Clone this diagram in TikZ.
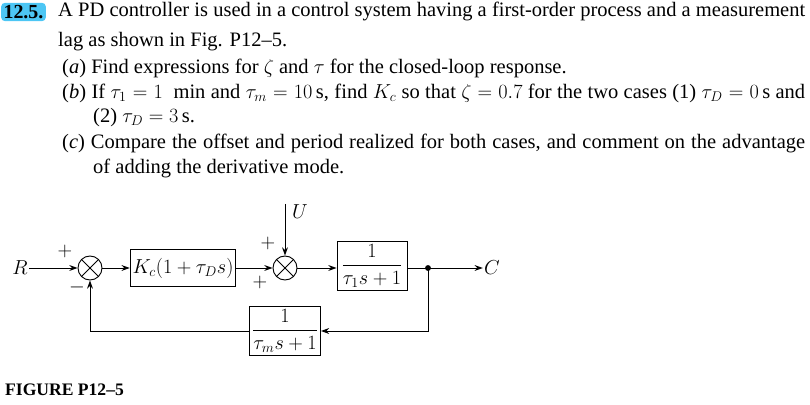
\documentclass[tikz,border=0pt]{standalone}
\usepackage{amsmath}
\usepackage{fontspec}
\setmainfont{Liberation Serif}
\usetikzlibrary{arrows.meta}
\begin{document}
\begin{tikzpicture}[x=0.03cm,y=-0.03cm,
  txt/.style={anchor=west,inner sep=0pt,font=\fontsize{17.5}{20}\selectfont},
  blk/.style={draw,line width=0.8pt,minimum height=37*0.03cm,inner sep=2pt,font=\fontsize{16.5}{18}\selectfont},
  sumc/.style={draw,circle,line width=0.8pt,minimum size=24*0.03cm,inner sep=0pt,
    path picture={\draw (path picture bounding box.north west)--(path picture bounding box.south east)
      (path picture bounding box.north east)--(path picture bounding box.south west);}},
  sig/.style={line width=0.8pt,-{Stealth[length=7pt,width=5pt]}},
  lbl/.style={font=\fontsize{16.5}{18}\selectfont,inner sep=1pt}]
\useasboundingbox (0,0) rectangle (810,405);
% header
\node[fill=cyan!70!white,rounded corners=3pt,inner sep=2pt,anchor=west,font=\fontsize{17}{18}\selectfont\bfseries] (num) at (1,12) {12.5.};
\node[txt] (l1) at (58,12) {\makebox[747\dimexpr0.03cm][s]{A PD controller is used in a control system having a first-order process and a measurement}};
\node[txt] (l2) at (58,42) {lag as shown in Fig. P12--5.};
\node[txt] (l3) at (62,68) {(\textit{a}) Find expressions for $\zeta$ and $\tau$ for the closed-loop response.};
\node[txt] (l4) at (62,93) {\makebox[743\dimexpr0.03cm][s]{(\textit{b}) If $\tau_1=1$ \ min and $\tau_m=10$\,s, find $K_c$ so that $\zeta=0.7$ for the two cases (1) $\tau_D=0$\,s and}};
\node[txt] (l5) at (93,118) {(2) $\tau_D=3$\,s.};
\node[txt] (l6) at (62,143) {\makebox[743\dimexpr0.03cm][s]{(\textit{c}) Compare the offset and period realized for both cases, and comment on the advantage}};
\node[txt] (l7) at (93,168) {of adding the derivative mode.};
% diagram
\node[lbl] (R) at (20,268) {$R$};
\node[sumc] (s1) at (90,268) {};
\node[blk,minimum width=103*0.03cm] (K) at (183,268) {$K_c(1+\tau_D s)$};
\node[sumc] (s2) at (285,268) {};
\node[blk,minimum width=70*0.03cm] (G) at (372,266) {$\dfrac{1}{\tau_1 s+1}$};
\node[blk,minimum width=70*0.03cm] (H) at (285,331) {$\dfrac{1}{\tau_m s+1}$};
\coordinate (d) at (428,268);
\node[lbl] (C) at (492,268) {$C$};
\coordinate (u) at (285,204);
\node[lbl] (U) at (300,212) {$U$};
\fill (d) circle (2.5pt);
\draw[sig] (R) -- (s1);
\draw[sig] (s1) -- (K);
\draw[sig] (K) -- (s2);
\draw[sig] (u) -- (s2);
\draw[sig] (s2) -- (s2 -| G.west);
\draw[line width=0.8pt] (G.east |- d) -- (d);
\draw[sig] (d) -- (C);
\draw[sig] (d) |- (H.east);
\draw[sig] (H.west) -| (s1);
\node[lbl] (p1) at (65,251) {$+$};
\node[lbl] (m1) at (77,287) {$-$};
\node[lbl] (p2) at (268,243) {$+$};
\node[lbl] (p3) at (260,282) {$+$};
\node[anchor=west,inner sep=0pt,font=\fontsize{15}{16}\selectfont\bfseries] (fig) at (5,390) {FIGURE P12--5};
\end{tikzpicture}
\end{document}
